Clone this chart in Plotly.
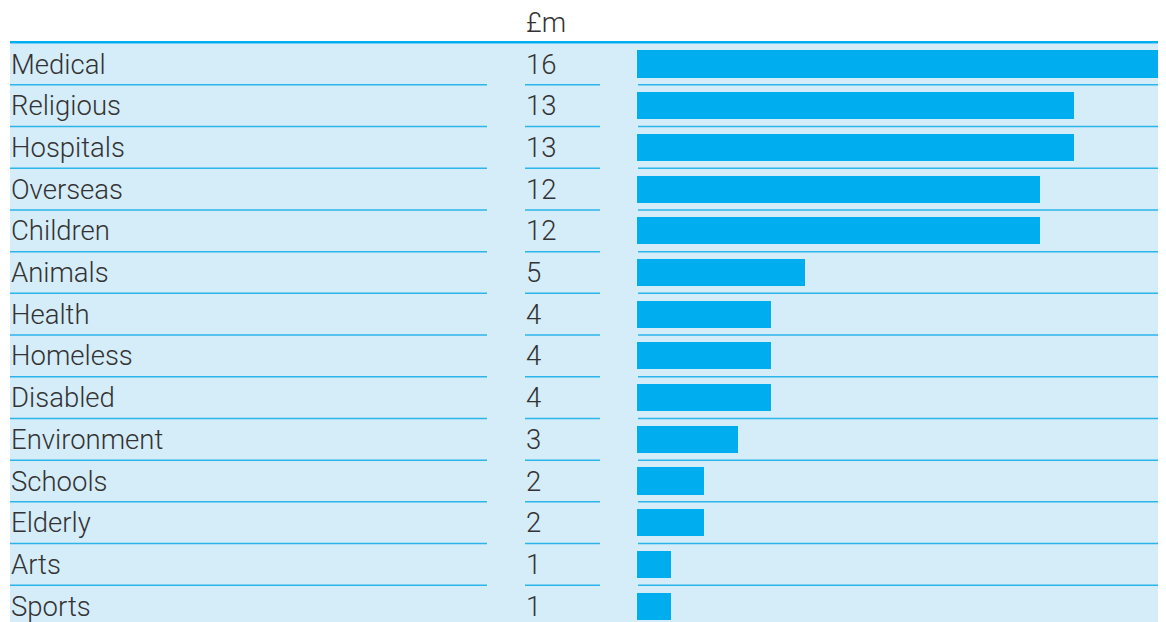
import plotly.graph_objects as go

categories = ["Medical", "Religious", "Hospitals", "Overseas", "Children", "Animals",
              "Health", "Homeless", "Disabled", "Environment", "Schools", "Elderly",
              "Arts", "Sports"]
values = [16, 13, 13, 12, 12, 5, 4, 4, 4, 3, 2, 2, 1, 1]
unit_label = "£m"

OFF = 8  # page body margin
W, H = 1166, 622
BLUE = "#00aeef"
BG = "#d5ecf9"
TXT = "#333333"
FONT = "Roboto"
FS = 27.5

pitch = 41.7
first_center = 64 - OFF
n = len(categories)
ys = list(range(n))

def px_to_y(p):
    return (p - first_center) / pitch

def fx(p):
    return (p - OFF) / W

fig = go.Figure()
fig.add_trace(go.Bar(
    x=values, y=ys, orientation="h",
    marker=dict(color=BLUE, line=dict(width=0)),
    width=0.65, hoverinfo="skip", showlegend=False,
))

shapes = []
shapes.append(dict(type="rect", xref="paper", yref="y", x0=fx(10), x1=1, y0=-0.5, y1=n - 0.5,
                   fillcolor=BG, line=dict(width=0), layer="below"))
shapes.append(dict(type="line", xref="paper", yref="y", x0=fx(10), x1=1, y0=-0.52, y1=-0.52,
                   line=dict(color=BLUE, width=2.5), layer="above"))
segments = [(10, 487), (525, 600), (638, 1174)]
for i in range(n):
    for a, b in segments:
        shapes.append(dict(type="line", xref="paper", yref="y", x0=fx(a), x1=fx(b),
                           y0=i + 0.5, y1=i + 0.5,
                           line=dict(color="#2bb5ea", width=1.5), layer="above"))

font = dict(family=FONT, size=FS, color=TXT, weight=300)
annotations = []
for i, (c, v) in enumerate(zip(categories, values)):
    annotations.append(dict(x=fx(9), y=i, xref="paper", yref="y", text=c, showarrow=False,
                            xanchor="left", yanchor="middle", font=font))
    annotations.append(dict(x=fx(524), y=i, xref="paper", yref="y", text=str(v), showarrow=False,
                            xanchor="left", yanchor="middle", font=font))
annotations.append(dict(x=fx(524), y=px_to_y(22 - OFF), xref="paper", yref="y", text=unit_label,
                        showarrow=False, xanchor="left", yanchor="middle", font=font))

unit_px = 33.6
bar_start = 637
fig.update_layout(
    width=W, height=H,
    margin=dict(l=0, r=0, t=0, b=0),
    paper_bgcolor="white", plot_bgcolor="rgba(0,0,0,0)",
    xaxis=dict(domain=[fx(bar_start), 1], range=[0, (1174 - bar_start) / unit_px],
               visible=False, fixedrange=True),
    yaxis=dict(range=[px_to_y(H), px_to_y(0)], visible=False, fixedrange=True),
    shapes=shapes, annotations=annotations,
    bargap=0,
)
fig.write_html("out.html")
